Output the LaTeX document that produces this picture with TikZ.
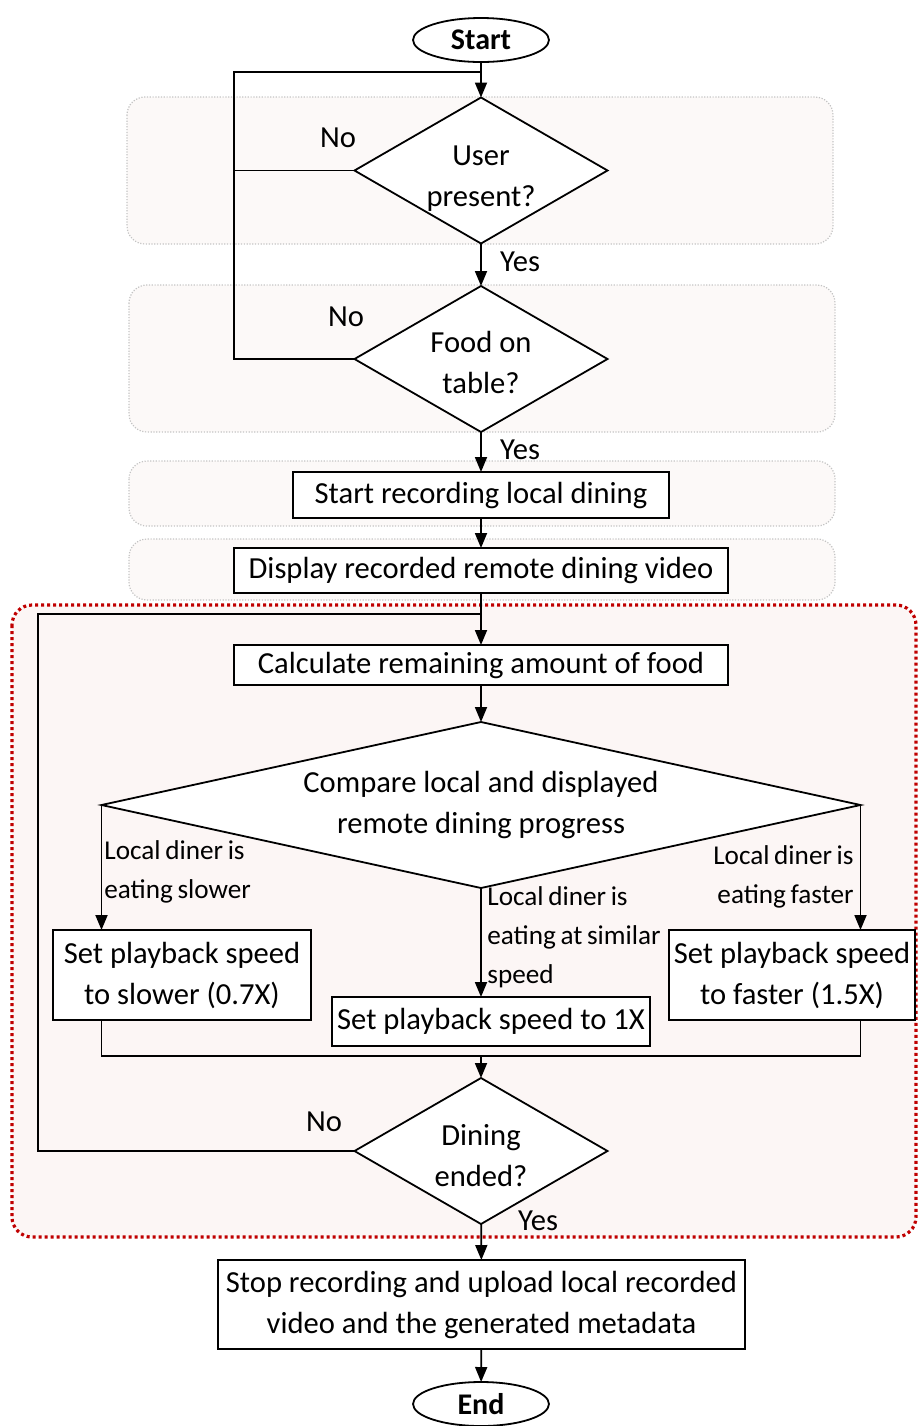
\documentclass[tikz,border=0pt]{standalone}
\usepackage{fontspec}
\setmainfont{Carlito}
\usetikzlibrary{shapes.geometric, arrows.meta, positioning}

\definecolor{panelfill}{HTML}{FCF9F8}
\definecolor{panelgray}{HTML}{C4C4C4}
\definecolor{loopfill}{HTML}{FCF6F5}
\definecolor{loopred}{HTML}{C00000}

\newcommand{\tightspace}{\spaceskip=0.17em plus 0.05em\relax}

\begin{document}
\begin{tikzpicture}[x=0.5pt, y=-0.5pt,
    font=\fontsize{15.3}{20.5}\selectfont,
    panel/.style={draw=panelgray, fill=panelfill, line width=0.6pt, dash pattern=on 0.6pt off 0.8pt, rounded corners=9pt},
    redloop/.style={draw=loopred, fill=loopfill, line width=1.6pt, dash pattern=on 1.5pt off 1.5pt, rounded corners=10pt},
    box/.style={rectangle, draw, fill=white, line width=0.9pt, inner sep=2pt, outer sep=0pt, align=center},
    decision/.style={diamond, draw, fill=white, line width=0.9pt, inner sep=0pt, outer sep=0pt, align=center},
    smalldec/.style={decision, minimum width=126.5pt, minimum height=73pt, shape aspect=1.72},
    terminal/.style={ellipse, draw, fill=white, line width=0.9pt, minimum width=68pt, minimum height=22pt, inner sep=0pt, outer sep=0pt, font=\fontsize{15}{17}\selectfont\bfseries},
    arrow/.style={-{Triangle[length=7.5pt, width=6pt]}, line width=0.9pt},
    link/.style={line width=0.9pt},
    lbl/.style={inner sep=0pt, font=\fontsize{13.6}{19.5}\selectfont\tightspace}
]
    \useasboundingbox (0,0) rectangle (918,1426);

    \path[panel] (127,97) rectangle (833,244);
    \path[panel] (129,285) rectangle (835,432);
    \path[panel] (129,461) rectangle (835,526);
    \path[panel] (129,539) rectangle (835,600);
    \path[redloop] (12,605) rectangle (916,1237);

    \node[terminal] (start) at (481,40) {Start};
    \node[smalldec, text height=38pt] (user) at (481,170.5) {User\\present?};
    \node[smalldec, text height=35pt] (food) at (481,359) {Food on\\table?};
    \node[box, minimum width=188pt, minimum height=23pt] (rec) at (481,495) {Start recording local dining};
    \node[box, minimum width=247pt, minimum height=22.5pt] (disp) at (481,570.5) {Display recorded remote dining video};
    \node[box, minimum width=247pt, minimum height=20pt] (calc) at (481,665) {Calculate remaining amount of food};
    \node[decision, minimum width=379.5pt, minimum height=83pt, shape aspect=4.57] (cmp) at (481,805) {Compare local and displayed\\remote dining progress};
    \node[box, minimum width=129pt, minimum height=45pt] (slow) at (182,975) {Set playback speed\\to slower (0.7X)};
    \node[box, minimum width=123pt, minimum height=45pt] (fast) at (792,975) {Set playback speed\\to faster (1.5X)};
    \node[box, minimum width=159pt, minimum height=24.5pt] (same) at (491,1021.5) {Set playback speed to 1X};
    \node[smalldec, text height=36pt] (ended) at (481,1151) {Dining\\ended?};
    \node[box, minimum width=263.5pt, minimum height=44.5pt] (stop) at (481.5,1304.5) {Stop recording and upload local recorded\\video and the generated metadata};
    \node[terminal] (end) at (481,1404) {End};

    \coordinate (topj) at (481,72);
    \coordinate (loopa) at (234,72);
    \coordinate (loopb) at (38,614);
    \coordinate (merge) at (481,1056);

    \draw[arrow] (start) -- (user);
    \draw[link] (user.west) -| (loopa) -- (topj);
    \draw[link] (food.west) -| (loopa);
    \draw[arrow] (user) -- (food);
    \draw[arrow] (food) -- (rec);
    \draw[arrow] (rec) -- (disp);
    \draw[arrow] (disp) -- (calc);
    \draw[arrow] (calc) -- (cmp);
    \draw[arrow] (cmp.west) -- (cmp.west |- slow.north);
    \draw[arrow] (cmp.east) -- (cmp.east |- fast.north);
    \draw[arrow] (cmp.south) -- (cmp.south |- same.north);
    \draw[link] (cmp.west |- slow.south) |- (merge) -| (cmp.east |- fast.south);
    \draw[arrow] (merge) -- (ended);
    \draw[link] (ended.west) -| (loopb) -- (loopb -| calc);
    \draw[arrow] (ended) -- (stop);
    \draw[arrow] (stop) -- (end);

    \node (no1) at (338,138) {No};
    \node (yes1) at (520,262) {Yes};
    \node (no2) at (346,317) {No};
    \node (yes2) at (520,450) {Yes};
    \node[lbl, anchor=west, align=left] (slowlbl) at (104,872) {Local diner is\\eating slower};
    \node[lbl, anchor=east, align=right] (fastlbl) at (854,877) {Local diner is\\eating faster};
    \node[lbl, anchor=west, align=left] (samelbl) at (487,937) {Local diner is\\eating at similar\\speed};
    \node (no4) at (324,1122) {No};
    \node (yes4) at (538,1221) {Yes};
\end{tikzpicture}
\end{document}
